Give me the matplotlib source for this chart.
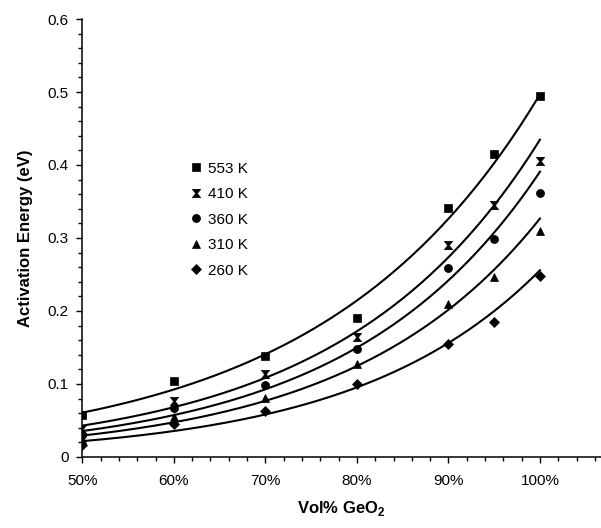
import numpy as np
import matplotlib
matplotlib.use("Agg")
import matplotlib.pyplot as plt
from matplotlib.path import Path
from matplotlib.ticker import MultipleLocator, FuncFormatter

plt.rcParams["font.family"] = ["Liberation Sans", "DejaVu Sans"]

# GeO2 volume fraction (%) and activation energies (eV) per temperature
vol_pct = [50, 60, 70, 80, 90, 95, 100]
ea_553k = [0.058, 0.104, 0.138, 0.190, 0.341, 0.415, 0.494]
ea_410k = [0.038, 0.077, 0.114, 0.165, 0.291, 0.345, 0.406]
ea_360k = [0.030, 0.067, 0.099, 0.148, 0.259, 0.299, 0.361]
ea_310k = [0.025, 0.055, 0.081, 0.127, 0.210, 0.246, 0.309]
ea_260k = [0.017, 0.045, 0.063, 0.100, 0.155, 0.185, 0.248]
labels = ["553 K", "410 K", "360 K", "310 K", "260 K"]

# hourglass marker for the 410 K series
hourglass = Path([(-1, 1), (1, 1), (0.18, 0), (1, -1), (-1, -1), (-0.18, 0), (-1, 1)],
                 [Path.MOVETO] + [Path.LINETO] * 5 + [Path.CLOSEPOLY])

series = [ea_553k, ea_410k, ea_360k, ea_310k, ea_260k]
markers = [("s", 5.8), (hourglass, 6.0), ("o", 5.8), ("^", 6.2), ("D", 4.6)]

fig = plt.figure(figsize=(6.01, 5.28), dpi=100)
ax = fig.add_axes([0.137, 0.1345, 0.863, 0.8295])

x = np.array(vol_pct, dtype=float)
xs = np.linspace(50, 100, 200)
for values, (mk, ms), lab in zip(series, markers, labels):
    y = np.array(values)
    ax.plot(x, y, linestyle="none", marker=mk, markersize=ms, color="black",
            markeredgewidth=0.5, label=lab)
    # exponential trendline (least squares on log y)
    b, a = np.polyfit(x, np.log(y), 1)
    ax.plot(xs, np.exp(a + b * xs), color="black", linewidth=1.5)

ax.set_xlim(50, 106.67)
ax.set_ylim(0, 0.6)
ax.xaxis.set_major_locator(MultipleLocator(10))
ax.xaxis.set_minor_locator(MultipleLocator(2))
ax.yaxis.set_major_locator(MultipleLocator(0.1))
ax.yaxis.set_minor_locator(MultipleLocator(0.02))
ax.xaxis.set_major_formatter(FuncFormatter(lambda v, p: f"{v:.0f}%"))
ax.yaxis.set_major_formatter(FuncFormatter(lambda v, p: "0" if abs(v) < 1e-9 else f"{v:.1f}"))

for side in ("top", "right"):
    ax.spines[side].set_visible(False)
for side in ("left", "bottom"):
    ax.spines[side].set_linewidth(1.1)
ax.tick_params(which="major", direction="out", length=4, width=1.0, labelsize=11)
ax.tick_params(which="minor", direction="out", length=3, width=1.0)
ax.tick_params(axis="y", which="major", pad=6)
ax.tick_params(axis="x", which="major", pad=8)

ax.set_xlabel("Vol% GeO$_\\mathregular{2}$", fontsize=12, fontweight="bold", labelpad=8)
ax.set_ylabel("Activation Energy (eV)", fontsize=12, fontweight="bold", labelpad=10)

ax.legend(loc="upper left", bbox_to_anchor=(0.199, 0.688), frameon=False,
          fontsize=11, handlelength=0.6, handletextpad=0.5, labelspacing=0.75,
          borderaxespad=0)

fig.savefig("out.png", dpi=100)
